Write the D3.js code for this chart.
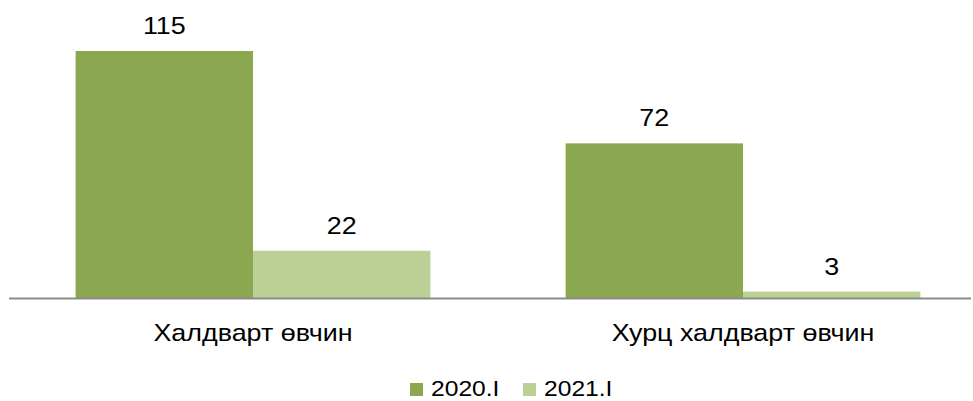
<!DOCTYPE html>
<html>
<head>
<meta charset="utf-8">
<script src="https://cdn.jsdelivr.net/npm/d3@7"></script>
<style>
  body { margin: 0; background: #fff; }
  text { font-family: "Liberation Sans", Arial, sans-serif; fill: #000; }
</style>
</head>
<body>
<script>
var categories = ["Халдварт өвчин", "Хурц халдварт өвчин"];
var seriesNames = ["2020.I", "2021.I"];
var values2020 = [115, 72];
var values2021 = [22, 3];
var colors = ["#8BA74F", "#BBD095"];

var width = 973, height = 401;
var baseY = 298;
var stretch = 1.12; // text in the original is a bit wider than plain Arial

var svg = d3.select("body").append("svg")
  .attr("width", width)
  .attr("height", height);

var x0 = d3.scaleBand()
  .domain(categories)
  .range([8, 988])
  .paddingInner(0.276)
  .paddingOuter(0.138);

var x1 = d3.scaleBand()
  .domain(seriesNames)
  .range([0, x0.bandwidth()]);

var y = d3.scaleLinear()
  .domain([0, 115])
  .range([baseY, 51]);

var data = categories.map(function (c, i) {
  return { cat: c, vals: [values2020[i], values2021[i]] };
});

var groups = svg.selectAll(".grp")
  .data(data)
  .enter().append("g")
  .attr("transform", function (d) { return "translate(" + x0(d.cat) + ",0)"; });

groups.selectAll("rect")
  .data(function (d) { return d.vals.map(function (v, j) { return { s: seriesNames[j], v: v, j: j }; }); })
  .enter().append("rect")
  .attr("x", function (d) { return x1(d.s); })
  .attr("y", function (d) { return y(d.v); })
  .attr("width", x1.bandwidth())
  .attr("height", function (d) { return baseY - y(d.v); })
  .attr("fill", function (d) { return colors[d.j]; });

groups.selectAll(".lbl")
  .data(function (d) { return d.vals.map(function (v, j) { return { s: seriesNames[j], v: v }; }); })
  .enter().append("text")
  .attr("transform", function (d) {
    return "translate(" + (x1(d.s) + x1.bandwidth() / 2) + "," + (y(d.v) - 17) + ") scale(" + stretch + ",1)";
  })
  .attr("text-anchor", "middle")
  .style("font-size", "24px")
  .text(function (d) { return d.v; });

// axis line
svg.append("line")
  .attr("x1", 9).attr("x2", 971)
  .attr("y1", baseY + 0.5).attr("y2", baseY + 0.5)
  .attr("stroke", "#8c8c8c")
  .attr("stroke-width", 2);

svg.selectAll(".cat")
  .data(categories)
  .enter().append("text")
  .attr("transform", function (d) {
    return "translate(" + (x0(d) + x0.bandwidth() / 2) + ",341) scale(" + stretch + ",1)";
  })
  .attr("text-anchor", "middle")
  .style("font-size", "24px")
  .text(function (d) { return d; });

// legend
var legendX = [410, 523];
var legend = svg.selectAll(".leg")
  .data(seriesNames)
  .enter().append("g")
  .attr("transform", function (d, i) { return "translate(" + legendX[i] + ",383)"; });

legend.append("rect")
  .attr("width", 13).attr("height", 13)
  .attr("fill", function (d, i) { return colors[i]; });

legend.append("text")
  .attr("transform", "translate(21,13) scale(" + stretch + ",1)")
  .style("font-size", "22px")
  .text(function (d) { return d; });
</script>
</body>
</html>
